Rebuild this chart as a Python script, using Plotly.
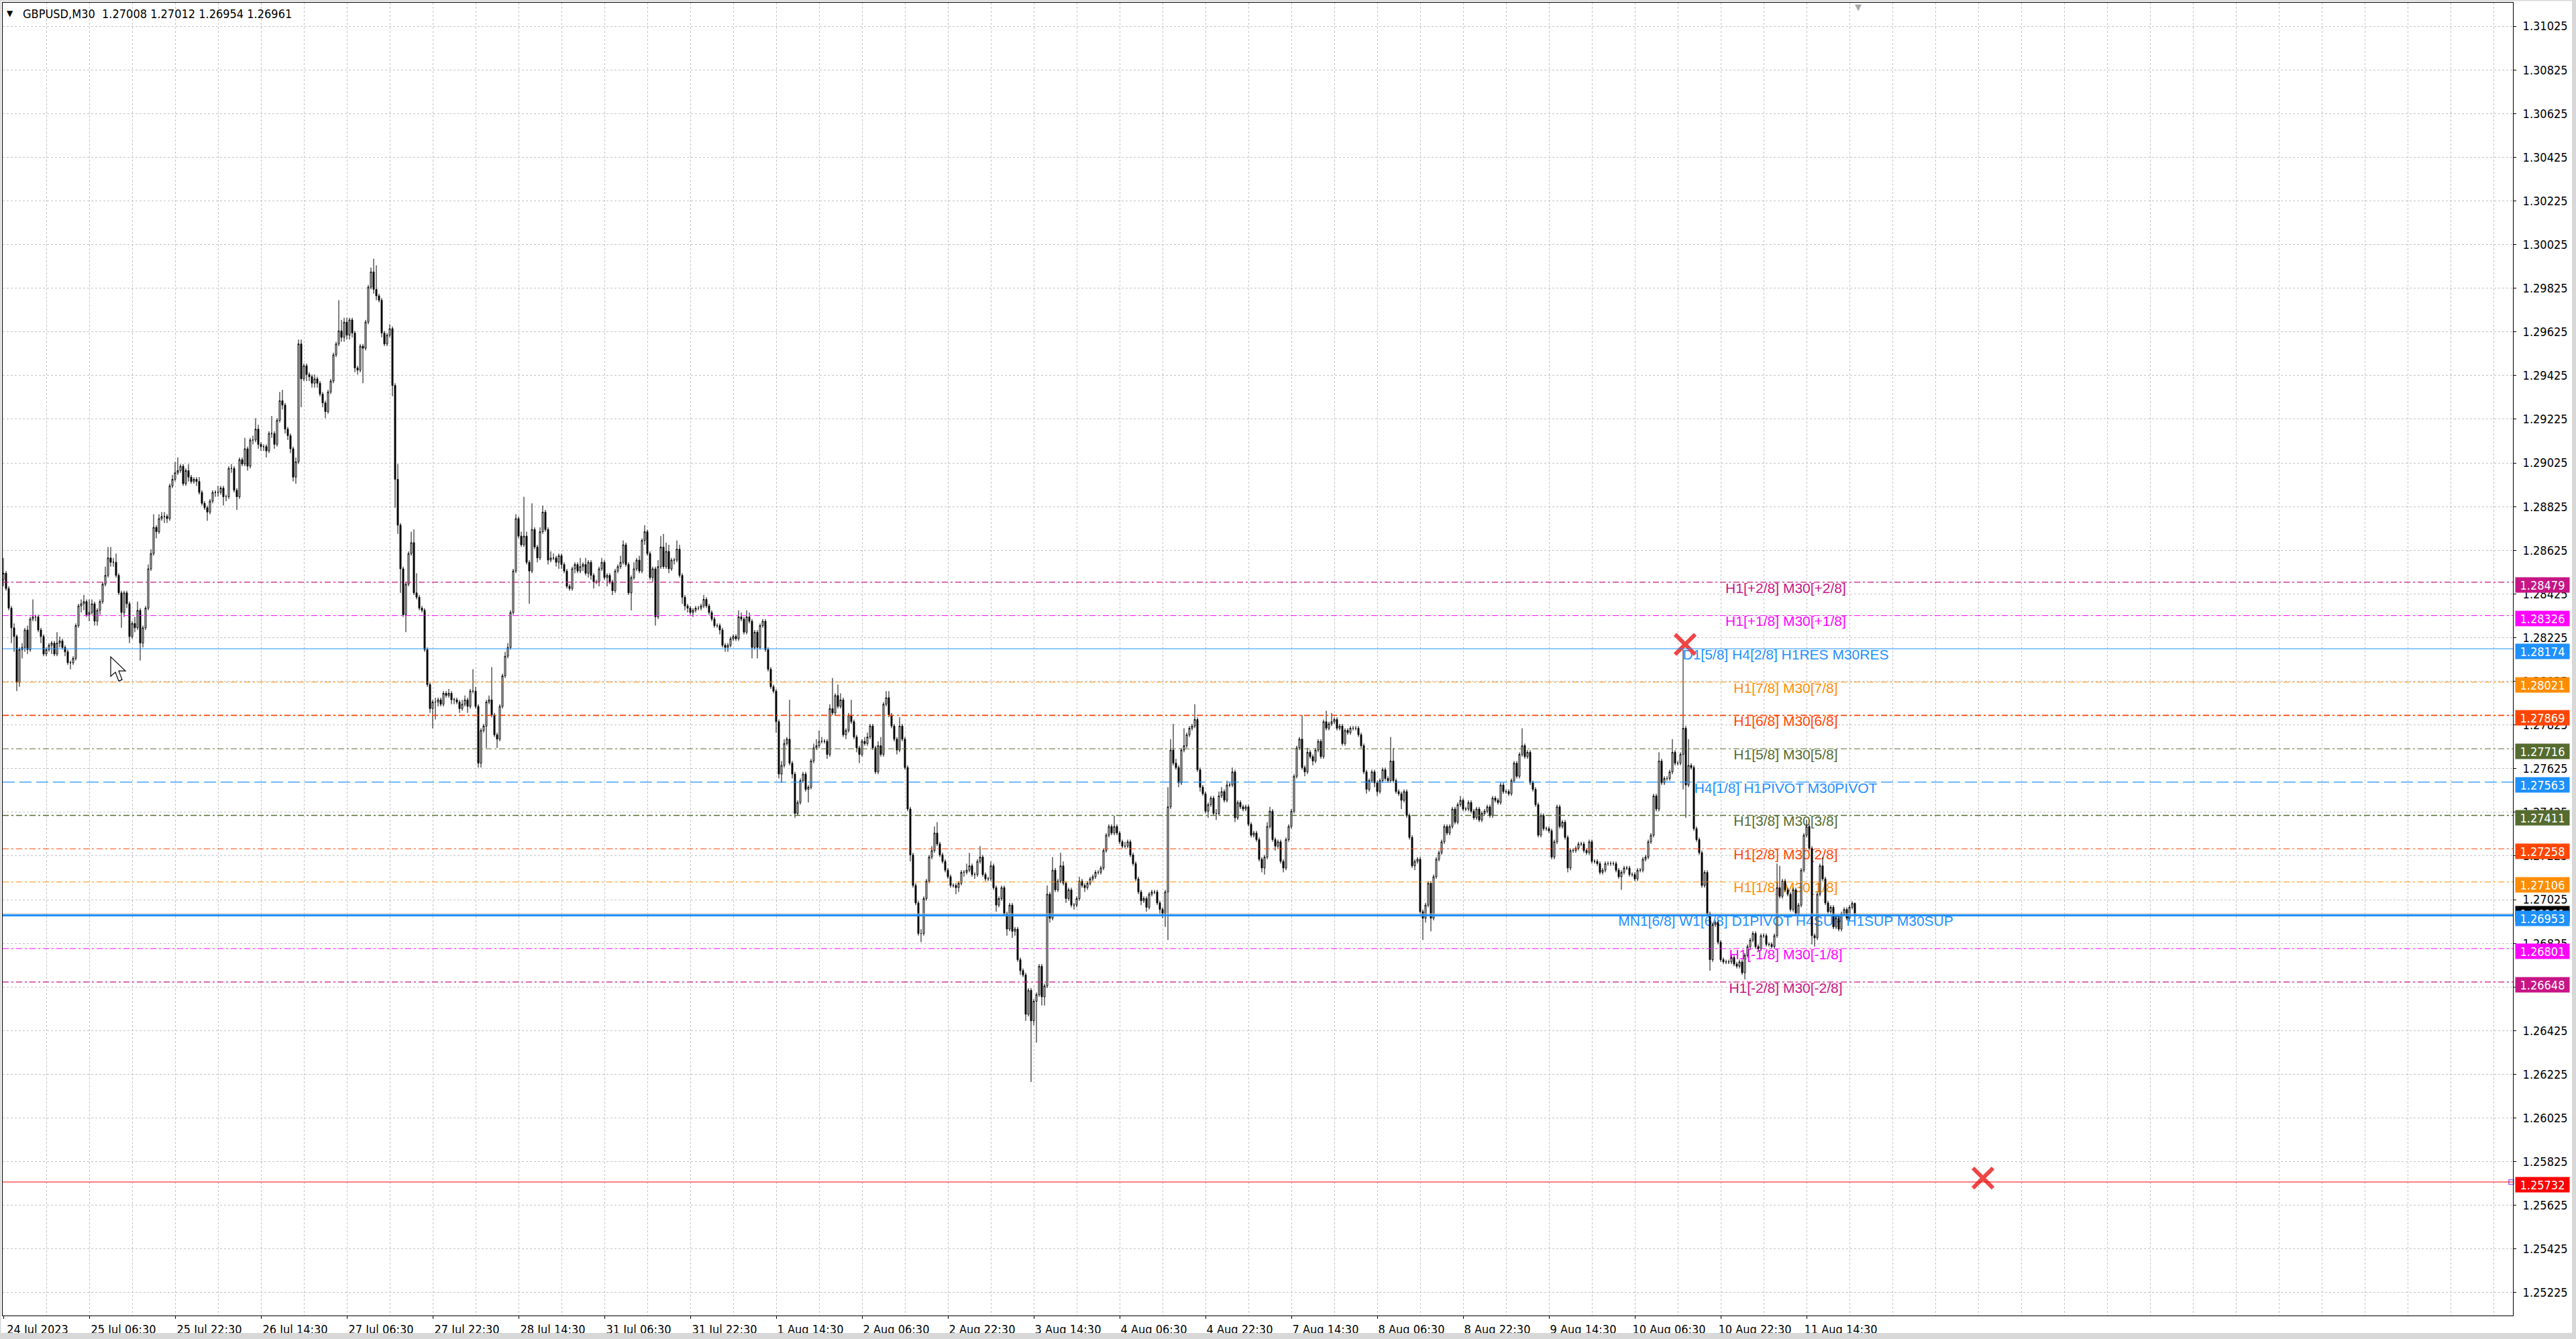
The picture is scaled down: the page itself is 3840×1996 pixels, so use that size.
import plotly.graph_objects as go

# GBPUSD M30 candles, 24 Jul 2023 14:30 .. 11 Aug 2023 23:30 (one entry per bar)
# prices are pips above 1.2000, e.g. 847.9 -> 1.28479
first_open = 849
closes = [
    852, 845, 836, 827, 823, 802, 817, 818, 826, 817, 831, 832, 832, 826, 823, 815, 817, 819, 820, 815,
    820, 821, 818, 816, 811, 811, 813, 828, 837, 838, 839, 833, 834, 838, 830, 835, 839, 847, 851, 859,
    857, 857, 851, 843, 834, 843, 838, 823, 829, 827, 835, 820, 827, 836, 854, 861, 873, 871, 877, 878,
    878, 877, 892, 895, 898, 899, 901, 893, 899, 896, 894, 895, 894, 889, 884, 882, 880, 885, 889, 889,
    889, 891, 887, 887, 900, 900, 890, 887, 904, 902, 909, 901, 913, 913, 918, 911, 910, 910, 908, 916,
    916, 911, 922, 931, 929, 918, 915, 909, 896, 903, 957, 941, 947, 943, 942, 939, 941, 939, 934, 930,
    926, 935, 940, 952, 957, 963, 960, 967, 961, 968, 962, 946, 945, 956, 955, 967, 983, 990, 982, 979,
    977, 962, 957, 961, 964, 938, 895, 874, 854, 833, 847, 861, 866, 843, 841, 836, 835, 817, 801, 790,
    793, 793, 794, 792, 797, 796, 797, 794, 794, 793, 790, 792, 794, 791, 798, 798, 791, 765, 780, 782,
    793, 794, 787, 778, 776, 791, 805, 814, 818, 834, 853, 877, 869, 865, 869, 857, 853, 872, 864, 859,
    871, 880, 872, 858, 859, 859, 857, 860, 856, 853, 846, 845, 854, 856, 853, 855, 856, 852, 857, 851,
    848, 848, 854, 857, 850, 851, 848, 844, 853, 855, 857, 865, 856, 843, 850, 854, 858, 853, 867, 871,
    861, 850, 854, 832, 855, 864, 855, 862, 854, 858, 858, 863, 851, 841, 837, 836, 834, 835, 836, 836,
    837, 840, 837, 834, 831, 828, 828, 826, 819, 818, 819, 822, 823, 822, 832, 831, 825, 832, 830, 818,
    825, 818, 828, 830, 817, 808, 800, 798, 784, 760, 764, 774, 776, 765, 760, 742, 747, 757, 760, 753,
    754, 766, 772, 773, 775, 775, 775, 769, 790, 788, 796, 791, 794, 778, 780, 787, 784, 777, 772, 769,
    775, 774, 777, 782, 772, 761, 773, 769, 792, 795, 787, 782, 776, 771, 782, 776, 763, 744, 723, 709,
    701, 687, 687, 703, 711, 722, 725, 733, 728, 723, 720, 716, 713, 709, 709, 708, 710, 715, 715, 716,
    718, 714, 714, 720, 722, 714, 712, 712, 718, 708, 700, 703, 708, 696, 689, 700, 688, 689, 675, 670,
    668, 650, 661, 647, 656, 659, 672, 658, 663, 705, 694, 716, 707, 711, 718, 710, 703, 707, 700, 700,
    703, 711, 709, 708, 710, 712, 713, 715, 715, 717, 725, 732, 736, 733, 736, 733, 729, 727, 727, 729,
    723, 719, 712, 706, 702, 703, 699, 705, 706, 706, 701, 698, 696, 706, 745, 771, 765, 763, 756, 771,
    773, 778, 781, 782, 785, 762, 754, 751, 743, 746, 749, 742, 742, 750, 752, 748, 755, 755, 761, 740,
    747, 745, 744, 745, 737, 732, 733, 730, 721, 717, 722, 736, 743, 730, 727, 729, 720, 717, 730, 736,
    743, 759, 772, 776, 763, 761, 770, 768, 766, 771, 775, 768, 784, 781, 783, 784, 785, 781, 782, 774,
    780, 779, 781, 781, 781, 778, 773, 761, 753, 757, 761, 756, 752, 757, 762, 758, 757, 766, 757, 752,
    751, 748, 752, 741, 731, 718, 720, 721, 697, 694, 700, 710, 694, 713, 721, 724, 729, 736, 733, 736,
    744, 738, 746, 748, 744, 744, 747, 743, 740, 744, 739, 742, 743, 745, 741, 749, 748, 747, 755, 752,
    752, 751, 757, 765, 759, 769, 773, 768, 770, 756, 753, 746, 732, 741, 735, 735, 734, 722, 729, 745,
    736, 738, 731, 717, 725, 725, 726, 728, 728, 725, 724, 729, 720, 720, 719, 715, 716, 719, 719, 719,
    719, 716, 713, 715, 717, 717, 714, 714, 712, 716, 716, 721, 722, 729, 732, 750, 744, 766, 756, 758,
    758, 761, 770, 765, 765, 769, 781, 755, 764, 763, 735, 730, 724, 709, 715, 696, 675, 691, 692, 683,
    675, 674, 674, 674, 676, 673, 672, 674, 669, 677, 681, 684, 687, 681, 680, 686, 686, 682, 682, 681,
    686, 708, 704, 711, 707, 705, 698, 707, 696, 700, 716, 732, 736, 726, 686, 685, 705, 718, 712, 701,
    697, 699, 690, 694, 689, 696, 698, 694, 699, 700.8, 696.1,
]
# wick lengths above / below the body, pips
upper_wick = [
    7, 1, 1, 1, 2, 1, 1, 2, 1, 2, 1, 8, 1, 1, 1, 1, 1, 1, 1, 1,
    5, 2, 1, 1, 1, 1, 1, 1, 1, 2, 3, 1, 6, 2, 1, 1, 1, 1, 4, 5,
    5, 2, 4, 1, 1, 1, 1, 1, 1, 3, 4, 1, 1, 1, 2, 2, 6, 1, 2, 2,
    2, 1, 1, 2, 5, 6, 1, 1, 1, 3, 1, 1, 1, 2, 1, 1, 1, 1, 1, 1,
    3, 1, 1, 1, 1, 2, 1, 1, 1, 1, 5, 1, 1, 2, 5, 2, 1, 1, 1, 1,
    8, 1, 1, 4, 5, 1, 1, 1, 1, 2, 2, 2, 1, 1, 1, 1, 2, 1, 1, 1,
    1, 1, 1, 1, 1, 14, 5, 2, 2, 1, 1, 1, 1, 1, 1, 1, 1, 2, 6, 11,
    1, 1, 1, 1, 2, 1, 1, 7, 1, 1, 1, 1, 5, 6, 9, 1, 1, 1, 1, 1,
    1, 2, 1, 1, 1, 1, 2, 1, 1, 1, 1, 2, 2, 1, 1, 10, 2, 1, 1, 1,
    1, 2, 15, 1, 1, 1, 1, 2, 2, 1, 1, 2, 1, 2, 18, 2, 1, 12, 1, 1,
    2, 3, 1, 1, 3, 2, 1, 1, 1, 1, 1, 1, 1, 1, 1, 4, 1, 3, 1, 1,
    1, 1, 1, 2, 1, 1, 1, 1, 1, 1, 3, 2, 1, 1, 1, 3, 1, 2, 1, 3,
    1, 1, 1, 1, 3, 5, 6, 4, 3, 1, 1, 4, 2, 1, 1, 1, 1, 1, 1, 1,
    1, 2, 1, 1, 1, 1, 1, 1, 1, 1, 1, 1, 1, 1, 3, 2, 1, 3, 2, 1,
    1, 1, 1, 1, 1, 1, 1, 1, 1, 1, 2, 2, 1, 18, 1, 1, 1, 1, 1, 1,
    1, 1, 2, 3, 5, 2, 1, 1, 2, 14, 1, 5, 3, 1, 1, 1, 7, 1, 1, 1,
    1, 2, 2, 1, 1, 1, 2, 4, 1, 3, 3, 1, 1, 1, 4, 1, 1, 1, 1, 1,
    1, 1, 2, 1, 1, 1, 2, 3, 5, 1, 1, 1, 1, 1, 1, 1, 1, 1, 1, 3,
    6, 1, 1, 1, 5, 1, 1, 1, 2, 1, 1, 1, 1, 1, 1, 1, 1, 1, 1, 1,
    1, 1, 1, 1, 1, 1, 1, 1, 1, 4, 1, 6, 1, 1, 6, 2, 1, 1, 1, 1,
    1, 2, 1, 1, 1, 1, 1, 1, 1, 1, 1, 1, 1, 1, 5, 1, 1, 1, 2, 1,
    1, 1, 1, 1, 1, 1, 1, 1, 1, 1, 1, 1, 1, 1, 9, 5, 12, 2, 1, 1,
    8, 1, 1, 1, 7, 1, 1, 1, 1, 1, 1, 1, 2, 2, 2, 1, 2, 1, 2, 1,
    1, 1, 1, 1, 1, 1, 1, 1, 1, 1, 1, 2, 2, 1, 1, 1, 1, 1, 1, 1,
    1, 1, 1, 1, 11, 1, 2, 1, 1, 1, 1, 1, 1, 5, 1, 4, 1, 1, 1, 1,
    1, 1, 1, 1, 1, 1, 1, 1, 1, 1, 1, 1, 1, 1, 1, 1, 1, 11, 6, 1,
    1, 1, 1, 1, 1, 1, 1, 1, 1, 1, 1, 1, 1, 1, 1, 1, 1, 1, 1, 1,
    1, 1, 1, 2, 1, 1, 1, 1, 1, 1, 1, 1, 1, 1, 1, 1, 1, 1, 1, 1,
    1, 1, 1, 1, 1, 1, 8, 1, 1, 1, 1, 1, 1, 1, 1, 1, 1, 1, 1, 1,
    1, 1, 1, 1, 1, 1, 1, 1, 1, 1, 1, 1, 1, 1, 1, 1, 1, 1, 1, 1,
    1, 1, 1, 1, 1, 1, 1, 1, 1, 1, 1, 1, 1, 1, 1, 1, 1, 4, 1, 1,
    1, 1, 6, 1, 1, 1, 36, 1, 12, 1, 1, 1, 1, 1, 1, 1, 1, 1, 1, 1,
    1, 1, 1, 1, 1, 1, 1, 1, 1, 1, 1, 1, 1, 1, 1, 1, 1, 1, 1, 1,
    1, 11, 10, 1, 1, 1, 1, 1, 1, 1, 1, 1, 3, 1, 1, 1, 1, 1, 4, 1,
    1, 1, 1, 1, 1, 1, 1, 1, 1, 1, 0.4,
]
lower_wick = [
    3, 1, 1, 7, 7, 4, 2, 4, 2, 2, 1, 1, 2, 1, 3, 1, 1, 1, 4, 1,
    1, 2, 1, 2, 1, 3, 1, 1, 1, 3, 3, 1, 3, 1, 2, 2, 2, 1, 1, 1,
    2, 2, 1, 1, 7, 2, 2, 3, 1, 2, 1, 8, 2, 1, 1, 1, 1, 3, 1, 1,
    3, 2, 1, 1, 1, 1, 1, 1, 1, 2, 1, 1, 2, 1, 1, 1, 4, 1, 1, 2,
    2, 1, 4, 2, 1, 2, 1, 6, 1, 1, 1, 2, 1, 2, 1, 2, 2, 2, 3, 1,
    2, 2, 1, 1, 2, 2, 2, 2, 2, 3, 1, 13, 1, 3, 2, 2, 2, 2, 1, 2,
    3, 1, 1, 1, 1, 1, 2, 2, 2, 2, 2, 2, 2, 1, 16, 1, 1, 1, 2, 2,
    1, 2, 1, 1, 1, 5, 13, 4, 11, 1, 8, 1, 1, 1, 1, 1, 1, 1, 1, 2,
    9, 8, 2, 1, 1, 1, 1, 2, 2, 1, 2, 1, 1, 3, 1, 1, 1, 2, 2, 1,
    10, 1, 1, 1, 4, 1, 1, 1, 1, 1, 1, 1, 1, 1, 1, 1, 15, 1, 1, 2,
    1, 1, 1, 2, 1, 1, 2, 3, 2, 1, 1, 1, 1, 2, 1, 1, 2, 1, 2, 2,
    3, 1, 2, 1, 1, 4, 1, 2, 1, 1, 1, 1, 1, 1, 8, 1, 1, 1, 1, 2,
    1, 1, 2, 4, 1, 1, 1, 1, 2, 1, 2, 1, 1, 3, 2, 2, 1, 2, 1, 1,
    1, 1, 1, 1, 1, 1, 1, 2, 1, 2, 2, 1, 1, 1, 1, 1, 1, 1, 1, 5,
    1, 5, 1, 1, 1, 1, 1, 1, 5, 2, 4, 1, 1, 1, 2, 2, 1, 1, 1, 1,
    6, 1, 1, 1, 1, 1, 1, 2, 1, 1, 1, 1, 1, 1, 2, 1, 1, 1, 2, 4,
    1, 1, 1, 1, 1, 1, 1, 1, 1, 1, 1, 1, 1, 2, 1, 1, 1, 1, 3, 1,
    1, 1, 4, 1, 1, 1, 1, 1, 1, 1, 1, 1, 1, 1, 1, 3, 2, 1, 2, 1,
    1, 1, 2, 1, 1, 1, 1, 1, 1, 1, 3, 1, 1, 1, 3, 1, 3, 2, 1, 2,
    1, 3, 1, 28, 2, 19, 1, 4, 4, 1, 2, 1, 1, 1, 1, 1, 2, 1, 1, 2,
    1, 1, 1, 2, 1, 1, 1, 1, 1, 1, 1, 1, 1, 1, 1, 1, 1, 1, 1, 1,
    1, 1, 1, 1, 2, 1, 2, 1, 1, 1, 1, 2, 2, 6, 22, 1, 1, 1, 2, 1,
    1, 1, 1, 1, 1, 1, 2, 1, 1, 3, 1, 1, 3, 1, 1, 1, 1, 1, 1, 2,
    1, 1, 1, 1, 1, 1, 1, 1, 1, 2, 3, 1, 1, 1, 2, 1, 1, 2, 1, 1,
    1, 1, 1, 1, 1, 2, 1, 1, 2, 1, 1, 1, 1, 1, 1, 1, 1, 1, 1, 1,
    1, 1, 1, 1, 1, 1, 1, 1, 2, 1, 1, 2, 2, 1, 1, 1, 1, 1, 1, 1,
    1, 4, 1, 1, 1, 1, 2, 1, 1, 10, 2, 1, 6, 1, 1, 1, 1, 1, 1, 1,
    1, 1, 1, 1, 1, 1, 1, 1, 1, 1, 1, 1, 1, 1, 1, 1, 1, 1, 1, 1,
    1, 1, 1, 1, 1, 1, 1, 1, 1, 1, 1, 1, 1, 1, 1, 1, 1, 1, 1, 1,
    1, 1, 1, 2, 1, 1, 1, 1, 1, 1, 1, 1, 1, 1, 1, 1, 1, 1, 1, 1,
    1, 1, 1, 6, 1, 1, 1, 1, 1, 1, 1, 1, 1, 1, 1, 1, 1, 1, 1, 1,
    1, 1, 1, 1, 1, 1, 16, 15, 1, 1, 1, 1, 1, 1, 1, 1, 5, 1, 1, 1,
    1, 1, 1, 1, 1, 1, 1, 1, 1, 3, 1, 1, 1, 1, 1, 1, 1, 1, 1, 1,
    1, 1, 1, 1, 1, 1, 1, 1, 1, 1, 1, 1, 1, 1, 4, 4, 1, 1, 1, 1,
    1, 1, 1, 1, 1, 1, 1, 1, 1, 1, 0.7,
]

tick_bars = [0, 32, 64, 96, 128, 160, 192, 224, 256, 288, 320, 352, 384, 416, 448, 480, 512, 544, 576, 608, 640, 672]
tick_labels = ["24 Jul 2023", "25 Jul 06:30", "25 Jul 22:30", "26 Jul 14:30", "27 Jul 06:30", "27 Jul 22:30",
               "28 Jul 14:30", "31 Jul 06:30", "31 Jul 22:30", "1 Aug 14:30", "2 Aug 06:30", "2 Aug 22:30",
               "3 Aug 14:30", "4 Aug 06:30", "4 Aug 22:30", "7 Aug 14:30", "8 Aug 06:30", "8 Aug 22:30",
               "9 Aug 14:30", "10 Aug 06:30", "10 Aug 22:30", "11 Aug 14:30"]

level_prices = [1.28479, 1.28326, 1.28174, 1.28021, 1.27869, 1.27716, 1.27563,
                1.27411, 1.27258, 1.27106, 1.26953, 1.26801, 1.26648]
level_colors = ["#C71585", "#FF00FF", "#1E90FF", "#FF8C00", "#FF4500", "#556B2F", "#1E90FF",
                "#556B2F", "#FF4500", "#FF8C00", "#1E90FF", "#FF00FF", "#C71585"]
level_texts = ["H1[+2/8] M30[+2/8]", "H1[+1/8] M30[+1/8]", "D1[5/8] H4[2/8] H1RES M30RES",
               "H1[7/8] M30[7/8]", "H1[6/8] M30[6/8]", "H1[5/8] M30[5/8]", "H4[1/8] H1PIVOT M30PIVOT",
               "H1[3/8] M30[3/8]", "H1[2/8] M30[2/8]", "H1[1/8] M30[1/8]",
               "MN1[6/8] W1[6/8] D1PIVOT H4SUP H1SUP M30SUP", "H1[-1/8] M30[-1/8]", "H1[-2/8] M30[-2/8]"]
DASHDOT = "9px,4px,3px,4px"
level_dash = [DASHDOT, DASHDOT, "solid", DASHDOT, DASHDOT, DASHDOT, "18px,7px",
              DASHDOT, DASHDOT, DASHDOT, "solid", DASHDOT, DASHDOT]
level_width = [1.3, 1, 1, 1, 1.6, 1, 1.2, 1.4, 1, 1, 3, 1, 1.3]
label_bar = 664.25

stop_price = 1.25732
bid_price = 1.26961
cross_bars = [626.75, 737.75]
cross_prices = [1.28194, 1.25750]

W, H = 3840, 1996
L, R, T, B = 4, 94, 4, 35
PW, PH = W - L - R, H - T - B
x_range = [-0.25, 935.25]
y_range = [1.251205, 1.311328]
TICK_FONT = dict(family="DejaVu Sans Condensed, DejaVu Sans", size=18, color="black")
GRID = "#C3C3C3"


def px_x(p):
    return (p - L) / PW


def px_y(p):
    return (H - B - p) / PH


opens = [first_open] + closes[:-1]
o = [1.2 + v / 10000 for v in opens]
c = [1.2 + v / 10000 for v in closes]
hi = [1.2 + (max(a, b) + w) / 10000 for a, b, w in zip(opens, closes, upper_wick)]
lo = [1.2 + (min(a, b) - w) / 10000 for a, b, w in zip(opens, closes, lower_wick)]
bars = list(range(len(closes)))

fig = go.Figure()

# level captions sit under the candles (base subplot)
fig.add_trace(go.Scatter(
    x=[label_bar] * len(level_prices), y=level_prices, mode="text", text=level_texts,
    textposition="bottom center",
    textfont=dict(family="Liberation Sans, Arial", size=21, color=level_colors),
    hoverinfo="skip", showlegend=False))

fig.add_trace(go.Candlestick(
    x=bars, open=o, high=hi, low=lo, close=c, xaxis="x2", yaxis="y2",
    increasing=dict(fillcolor="white", line=dict(color="black", width=1)),
    decreasing=dict(fillcolor="black", line=dict(color="black", width=1)),
    whiskerwidth=0, showlegend=False, hoverinfo="skip"))

fig.add_trace(go.Scatter(
    x=cross_bars, y=cross_prices, mode="markers", xaxis="x2", yaxis="y2",
    marker=dict(symbol="x-thin", size=30, line=dict(width=6, color="#EE4646")),
    hoverinfo="skip", showlegend=False))
fig.add_trace(go.Scatter(
    x=[934.6], y=[stop_price], mode="markers", xaxis="x2", yaxis="y2", cliponaxis=False,
    marker=dict(symbol="square-open", size=7, line=dict(width=1.5, color="#FF0000")),
    hoverinfo="skip", showlegend=False))

shapes = []
shapes.append(dict(type="line", xref="paper", x0=0, x1=1, yref="y", y0=bid_price, y1=bid_price,
                   line=dict(color="#B8B8B8", width=1), layer="above"))
for p, col, d, w in zip(level_prices, level_colors, level_dash, level_width):
    shapes.append(dict(type="line", xref="paper", x0=0, x1=1, yref="y", y0=p, y1=p,
                       line=dict(color=col, width=w, dash=d), layer="above"))
shapes.append(dict(type="line", xref="paper", x0=0, x1=1, yref="y", y0=stop_price, y1=stop_price,
                   line=dict(color="#FF0000", width=1), layer="above"))

# mouse pointer left on the chart
shapes.append(dict(type="path", xref="x", yref="y", xsizemode="pixel", ysizemode="pixel",
                   xanchor=40, yanchor=1.28137,
                   path="M0,0 L0,-29 L7,-23 L12,-36 L17,-34 L12,-21 L22,-21 Z",
                   fillcolor="white", line=dict(color="black", width=1.2), layer="above"))

# terminal window border
band = "#D8D8D8"
shapes += [
    dict(type="rect", xref="paper", yref="paper", x0=px_x(3834), x1=px_x(W), y0=px_y(H), y1=px_y(0),
         fillcolor=band, line=dict(width=0)),
    dict(type="rect", xref="paper", yref="paper", x0=px_x(0), x1=px_x(W), y0=px_y(H), y1=px_y(1987),
         fillcolor=band, line=dict(width=0)),
    dict(type="rect", xref="paper", yref="paper", x0=px_x(0), x1=px_x(W), y0=px_y(1.5), y1=px_y(0),
         fillcolor=band, line=dict(width=0)),
    dict(type="rect", xref="paper", yref="paper", x0=px_x(0), x1=px_x(1.5), y0=px_y(H), y1=px_y(0),
         fillcolor=band, line=dict(width=0)),
]

annotations = []
box_font = dict(family="DejaVu Sans Condensed, DejaVu Sans", size=18, color="white")


def price_box(p, col, shift):
    return dict(xref="paper", x=1, xanchor="left", xshift=2.5, yref="y", y=p, yshift=shift,
                text=f"{p:.5f}", showarrow=False, bgcolor=col, font=box_font,
                width=80, height=22, borderpad=0, align="center")


annotations.append(price_box(bid_price, "black", 0))
for p, col in zip(level_prices, level_colors):
    annotations.append(price_box(p, col, -4))
annotations.append(price_box(stop_price, "#FF0000", -4))

annotations.append(dict(xref="paper", x=px_x(32), xanchor="left", yref="paper", y=1, yanchor="middle",
                        yshift=-16, showarrow=False, font=TICK_FONT,
                        text="GBPUSD,M30\u00a0 1.27008 1.27012 1.26954 1.26961"))
annotations.append(dict(xref="paper", x=px_x(14.5), xanchor="center", yref="paper", y=1, yanchor="middle",
                        yshift=-16, showarrow=False, text="\u25bc",
                        font=dict(family="DejaVu Sans", size=12, color="black")))
annotations.append(dict(xref="x", x=691.25, xanchor="center", yref="paper", y=1, yanchor="top",
                        yshift=3, showarrow=False, text="\u25bc",
                        font=dict(family="DejaVu Sans", size=13, color="#A8A8A8")))

fig.update_layout(
    width=W, height=H, margin=dict(l=L, r=R, t=T, b=B, pad=0),
    paper_bgcolor="white", plot_bgcolor="white", showlegend=False, hovermode=False,
    shapes=shapes, annotations=annotations,
    xaxis=dict(range=x_range, tickmode="array", tickvals=tick_bars, ticktext=tick_labels,
               ticks="outside", ticklen=4, tickcolor="black", tickwidth=1,
               ticklabelshift=51, tickfont=TICK_FONT,
               showgrid=True, gridcolor=GRID, griddash="3px,3px", gridwidth=1,
               minor=dict(tick0=0, dtick=16, showgrid=True, gridcolor=GRID, griddash="3px,3px", gridwidth=1),
               showline=True, mirror=True, linecolor="black", linewidth=1, zeroline=False, fixedrange=True),
    yaxis=dict(range=y_range, side="right", tick0=1.25225, dtick=0.002, tickformat=".5f",
               ticks="outside", ticklen=4, tickcolor="black", tickwidth=1, ticklabelstandoff=6,
               tickfont=TICK_FONT,
               showgrid=True, gridcolor=GRID, griddash="3px,3px", gridwidth=1,
               showline=True, mirror=True, linecolor="black", linewidth=1, zeroline=False, fixedrange=True),
    xaxis2=dict(range=x_range, overlaying="x", visible=False, rangeslider=dict(visible=False), fixedrange=True),
    yaxis2=dict(range=y_range, overlaying="y", visible=False, fixedrange=True),
)

# drop the browser's default 8px body margin so the figure fills the window exactly
fig.write_html("out.html", config={"displayModeBar": False},
               post_script="document.body.style.margin='0';")
